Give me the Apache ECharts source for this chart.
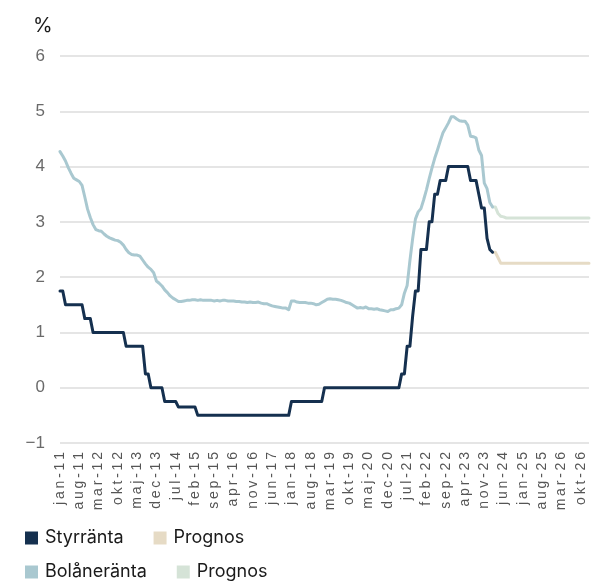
<!DOCTYPE html>
<html>
<head>
<meta charset="utf-8">
<script src="https://cdn.jsdelivr.net/npm/echarts@6/dist/echarts.min.js"></script>
<style>
  html, body { margin: 0; padding: 0; background: #ffffff; }
  #chart { width: 592px; height: 581px; }
</style>
</head>
<body>
<div id="chart"></div>
<script>
// Swedish month abbreviations and years for the monthly category axis
const monthNames = ['jan','feb','mar','apr','maj','jun','jul','aug','sep','okt','nov','dec'];
const years = ['11','12','13','14','15','16','17','18','19','20','21','22','23','24','25','26','27'];
const monthCount = 193; // jan-11 .. jan-27

// Riksbankens styrränta, monthly from jan-11 (index 0)
const styrranta = [
  1.75, 1.75, 1.5, 1.5, 1.5, 1.5, 1.5, 1.5, 1.5, 1.25,
  1.25, 1.25, 1.0, 1.0, 1.0, 1.0, 1.0, 1.0, 1.0, 1.0,
  1.0, 1.0, 1.0, 1.0, 0.75, 0.75, 0.75, 0.75, 0.75, 0.75,
  0.75, 0.25, 0.25, 0.0, 0.0, 0.0, 0.0, 0.0, -0.25, -0.25,
  -0.25, -0.25, -0.25, -0.35, -0.35, -0.35, -0.35, -0.35, -0.35, -0.35,
  -0.5, -0.5, -0.5, -0.5, -0.5, -0.5, -0.5, -0.5, -0.5, -0.5,
  -0.5, -0.5, -0.5, -0.5, -0.5, -0.5, -0.5, -0.5, -0.5, -0.5,
  -0.5, -0.5, -0.5, -0.5, -0.5, -0.5, -0.5, -0.5, -0.5, -0.5,
  -0.5, -0.5, -0.5, -0.5, -0.25, -0.25, -0.25, -0.25, -0.25, -0.25,
  -0.25, -0.25, -0.25, -0.25, -0.25, -0.25, 0.0, 0.0, 0.0, 0.0,
  0.0, 0.0, 0.0, 0.0, 0.0, 0.0, 0.0, 0.0, 0.0, 0.0,
  0.0, 0.0, 0.0, 0.0, 0.0, 0.0, 0.0, 0.0, 0.0, 0.0,
  0.0, 0.0, 0.0, 0.0, 0.25, 0.25, 0.75, 0.75, 1.3, 1.75,
  1.75, 2.5, 2.5, 2.5, 3.0, 3.0, 3.5, 3.5, 3.75, 3.75,
  3.75, 4.0, 4.0, 4.0, 4.0, 4.0, 4.0, 4.0, 4.0, 3.75,
  3.75, 3.75, 3.5, 3.25, 3.25, 2.7, 2.5, 2.45
];

// Prognos för styrräntan, starting at index 157
const styrPrognosStart = 157;
const styrPrognos = [
  2.45, 2.45, 2.35, 2.25, 2.25, 2.25, 2.25, 2.25, 2.25, 2.25,
  2.25, 2.25, 2.25, 2.25, 2.25, 2.25, 2.25, 2.25, 2.25, 2.25,
  2.25, 2.25, 2.25, 2.25, 2.25, 2.25, 2.25, 2.25, 2.25, 2.25,
  2.25, 2.25, 2.25, 2.25, 2.25, 2.25
];

// Genomsnittlig bolåneränta, monthly from jan-11 (index 0)
const bolaneranta = [
  4.27, 4.19, 4.10, 3.98, 3.88, 3.79, 3.76, 3.73, 3.66, 3.45,
  3.23, 3.08, 2.95, 2.86, 2.84, 2.83, 2.78, 2.74, 2.71, 2.69,
  2.67, 2.66, 2.63, 2.58, 2.50, 2.44, 2.41, 2.40, 2.40, 2.38,
  2.31, 2.24, 2.18, 2.14, 2.08, 1.93, 1.89, 1.84, 1.77, 1.72,
  1.66, 1.62, 1.59, 1.56, 1.56, 1.57, 1.58, 1.58, 1.59, 1.59,
  1.58, 1.59, 1.58, 1.58, 1.58, 1.58, 1.57, 1.58, 1.57, 1.58,
  1.58, 1.57, 1.57, 1.57, 1.56, 1.56, 1.55, 1.55, 1.54, 1.55,
  1.54, 1.54, 1.55, 1.53, 1.52, 1.52, 1.50, 1.48, 1.47, 1.46,
  1.45, 1.44, 1.44, 1.41, 1.57, 1.57, 1.55, 1.54, 1.54, 1.54,
  1.53, 1.53, 1.52, 1.50, 1.51, 1.54, 1.57, 1.60, 1.61, 1.60,
  1.60, 1.59, 1.58, 1.56, 1.54, 1.53, 1.50, 1.47, 1.44, 1.45,
  1.44, 1.46, 1.43, 1.43, 1.42, 1.43, 1.41, 1.40, 1.39, 1.38,
  1.41, 1.41, 1.43, 1.44, 1.50, 1.71, 1.85, 2.30, 2.70, 3.05,
  3.18, 3.24, 3.40, 3.58, 3.78, 3.97, 4.15, 4.30, 4.46, 4.61,
  4.70, 4.79, 4.90, 4.90, 4.86, 4.83, 4.82, 4.82, 4.75, 4.55,
  4.54, 4.52, 4.30, 4.20, 3.70, 3.60, 3.35, 3.27
];

// Prognos för bolåneräntan, starting at index 157
const bolanPrognosStart = 157;
const bolanPrognos = [
  3.27, 3.27, 3.15, 3.10, 3.09, 3.07, 3.07, 3.07, 3.07, 3.07,
  3.07, 3.07, 3.07, 3.07, 3.07, 3.07, 3.07, 3.07, 3.07, 3.07,
  3.07, 3.07, 3.07, 3.07, 3.07, 3.07, 3.07, 3.07, 3.07, 3.07,
  3.07, 3.07, 3.07, 3.07, 3.07, 3.07
];

// y-axis ticks
const yTicks = [-1, 0, 1, 2, 3, 4, 5, 6];

const categories = [];
for (let i = 0; i < monthCount; i++) {
  categories.push(monthNames[i % 12] + '-' + years[Math.floor(i / 12)]);
}

function place(values, start) {
  const out = new Array(monthCount).fill(null);
  values.forEach((v, k) => { if (start + k < monthCount) out[start + k] = v; });
  return out;
}

// widen the rotated month labels with thin spaces between characters
const THIN = '\u2009';
function spaced(label) {
  return label.split('').join(THIN);
}

const colors = {
  styr: '#15304f',
  styrProg: '#e6dbc5',
  bolan: '#a9c8d0',
  bolanProg: '#d5e3d7'
};

const chart = echarts.init(document.getElementById('chart'), null, { renderer: 'canvas' });

function lineSeries(name, data, color, z) {
  return {
    name: name,
    type: 'line',
    data: data,
    showSymbol: false,
    symbol: 'none',
    connectNulls: false,
    z: z,
    lineStyle: { color: color, width: 3, join: 'round', cap: 'round' },
    itemStyle: { color: color },
    emphasis: { disabled: true }
  };
}

const legendText = { fontFamily: 'Inter', fontSize: 18, color: '#1a1a1a', padding: [0, 0, 0, 2] };

chart.setOption({
  animation: false,
  backgroundColor: '#ffffff',
  title: {
    text: '%',
    left: 28,
    top: 11,
    textStyle: { fontFamily: 'Inter', fontSize: 20, fontWeight: 'normal', color: '#1a1a1a' }
  },
  grid: { left: 60, right: 3, top: 56, bottom: 138, containLabel: false },
  legend: [
    {
      left: 20, top: 524, orient: 'horizontal', itemGap: 30,
      itemWidth: 13, itemHeight: 13, icon: 'rect',
      selectedMode: false,
      data: ['Styrränta', 'Prognos styrränta'],
      formatter: n => n.startsWith('Prognos') ? 'Prognos' : n,
      textStyle: legendText
    },
    {
      left: 20, top: 558, orient: 'horizontal', itemGap: 30,
      itemWidth: 13, itemHeight: 13, icon: 'rect',
      selectedMode: false,
      data: ['Bolåneränta', 'Prognos bolåneränta'],
      formatter: n => n.startsWith('Prognos') ? 'Prognos' : n,
      textStyle: legendText
    }
  ],
  xAxis: {
    type: 'category',
    data: categories,
    boundaryGap: false,
    axisLine: { show: false },
    axisTick: { show: false },
    splitLine: { show: false },
    axisLabel: {
      interval: 6,
      rotate: 90,
      margin: 9,
      fontFamily: 'Liberation Sans',
      fontSize: 14,
      color: '#555555',
      formatter: v => spaced(v)
    }
  },
  yAxis: {
    type: 'value',
    min: yTicks[0],
    max: yTicks[yTicks.length - 1],
    interval: 1,
    axisLine: { show: false },
    axisTick: { show: false },
    splitLine: { lineStyle: { color: '#dcdcdc', width: 1.5 } },
    axisLabel: {
      margin: 15,
      fontFamily: 'Liberation Sans',
      fontSize: 17,
      color: '#6a6a6a',
      formatter: v => (v < 0 ? '−' + Math.abs(v) : String(v))
    }
  },
  series: [
    lineSeries('Bolåneränta', place(bolaneranta, 0), colors.bolan, 2),
    lineSeries('Prognos bolåneränta', place(bolanPrognos, bolanPrognosStart), colors.bolanProg, 1),
    lineSeries('Styrränta', place(styrranta, 0), colors.styr, 4),
    lineSeries('Prognos styrränta', place(styrPrognos, styrPrognosStart), colors.styrProg, 3)
  ]
});
</script>
</body>
</html>
